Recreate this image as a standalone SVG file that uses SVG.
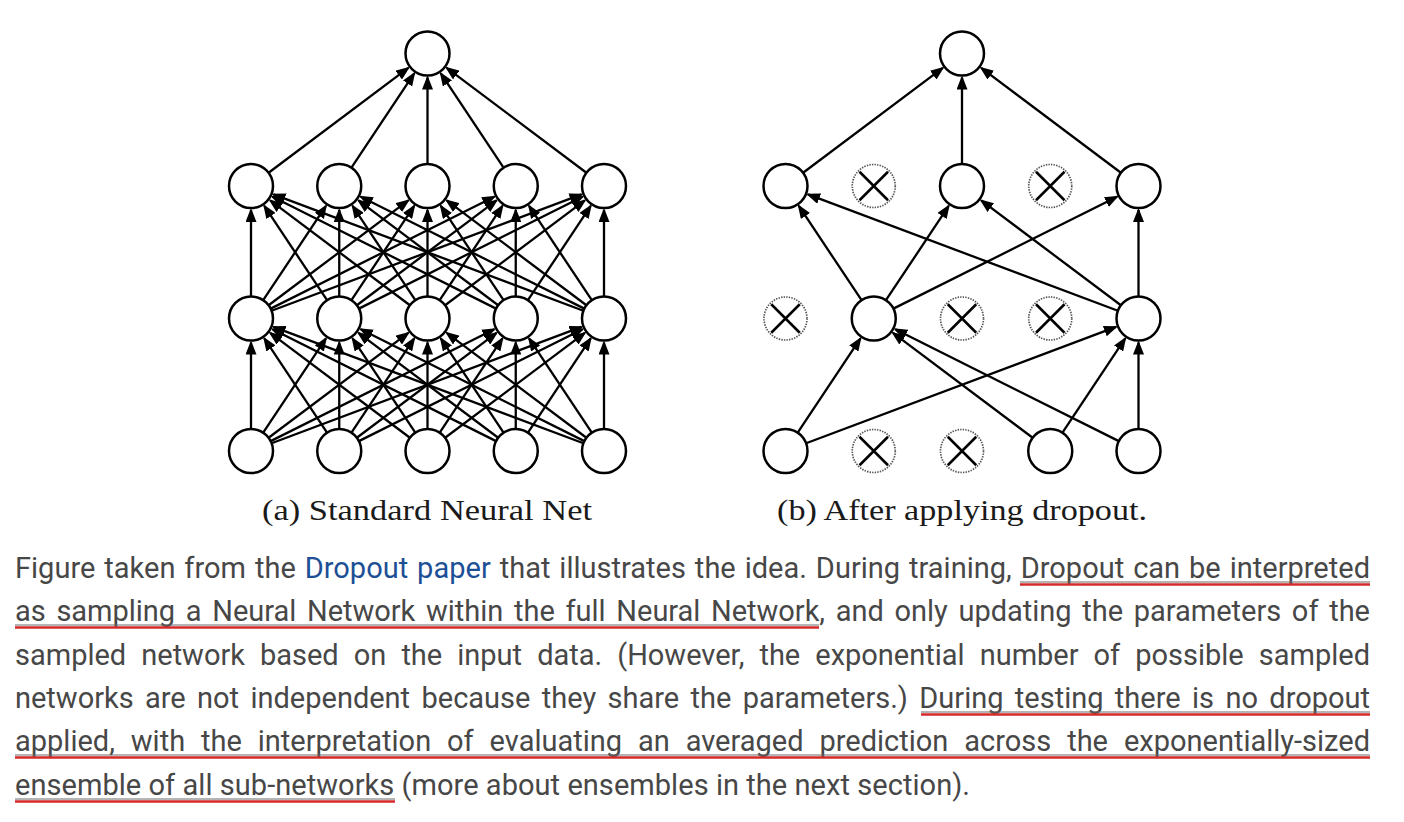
<svg xmlns="http://www.w3.org/2000/svg" width="1404" height="822" viewBox="0 0 1404 822">
<style>
.node{fill:#fff;stroke:#000;stroke-width:2.5}
.drop{fill:#fff;stroke:#555;stroke-width:1.7;stroke-dasharray:1.4 1.2}
.x{stroke:#000;stroke-width:2.5;stroke-linecap:butt}
.edge line{stroke:#000;stroke-width:2.3;marker-end:url(#ah)}
.cap{font-family:"Liberation Serif","DejaVu Serif",serif;font-size:29px;fill:#1a1a1a}
.body{font-family:Roboto,"Liberation Sans",sans-serif;font-size:29px;fill:#474747}
.link{fill:#1d4f96}
.ul{stroke:#d42a2a;stroke-width:2.5}
.ug{stroke:#6a6a6a;stroke-width:1}
</style>
<defs>
<marker id="ah" markerUnits="userSpaceOnUse" markerWidth="15" markerHeight="11" viewBox="0 0 15 11" refX="12" refY="5.5" orient="auto">
<path d="M0,0 L14,5.5 L0,11 z" fill="#000"/>
</marker>
</defs>
<rect width="1404" height="822" fill="#fff"/>

<g id="connectors-a" class="edge">
<line x1="251" y1="429" x2="251" y2="342.5"/>
<line x1="263.19" y1="432.69" x2="325.95" y2="338.48"/>
<line x1="268.59" y1="437.79" x2="408.31" y2="332.91"/>
<line x1="270.67" y1="441.15" x2="494.29" y2="329.24"/>
<line x1="271.6" y1="443.27" x2="581.53" y2="326.93"/>
<line x1="327.06" y1="432.69" x2="264.3" y2="338.48"/>
<line x1="339.25" y1="429" x2="339.25" y2="342.5"/>
<line x1="351.44" y1="432.69" x2="414.2" y2="338.48"/>
<line x1="356.84" y1="437.79" x2="496.56" y2="332.91"/>
<line x1="358.92" y1="441.15" x2="582.54" y2="329.24"/>
<line x1="409.91" y1="437.79" x2="270.19" y2="332.91"/>
<line x1="415.31" y1="432.69" x2="352.55" y2="338.48"/>
<line x1="427.5" y1="429" x2="427.5" y2="342.5"/>
<line x1="439.69" y1="432.69" x2="502.45" y2="338.48"/>
<line x1="445.09" y1="437.79" x2="584.81" y2="332.91"/>
<line x1="496.08" y1="441.15" x2="272.46" y2="329.24"/>
<line x1="498.16" y1="437.79" x2="358.44" y2="332.91"/>
<line x1="503.56" y1="432.69" x2="440.8" y2="338.48"/>
<line x1="515.75" y1="429" x2="515.75" y2="342.5"/>
<line x1="527.94" y1="432.69" x2="590.7" y2="338.48"/>
<line x1="583.4" y1="443.27" x2="273.47" y2="326.93"/>
<line x1="584.33" y1="441.15" x2="360.71" y2="329.24"/>
<line x1="586.41" y1="437.79" x2="446.69" y2="332.91"/>
<line x1="591.81" y1="432.69" x2="529.05" y2="338.48"/>
<line x1="604" y1="429" x2="604" y2="342.5"/>

<line x1="251" y1="296.5" x2="251" y2="210"/>
<line x1="263.19" y1="300.19" x2="325.95" y2="205.98"/>
<line x1="268.59" y1="305.29" x2="408.31" y2="200.41"/>
<line x1="270.67" y1="308.65" x2="494.29" y2="196.74"/>
<line x1="271.6" y1="310.77" x2="581.53" y2="194.43"/>
<line x1="327.06" y1="300.19" x2="264.3" y2="205.98"/>
<line x1="339.25" y1="296.5" x2="339.25" y2="210"/>
<line x1="351.44" y1="300.19" x2="414.2" y2="205.98"/>
<line x1="356.84" y1="305.29" x2="496.56" y2="200.41"/>
<line x1="358.92" y1="308.65" x2="582.54" y2="196.74"/>
<line x1="409.91" y1="305.29" x2="270.19" y2="200.41"/>
<line x1="415.31" y1="300.19" x2="352.55" y2="205.98"/>
<line x1="427.5" y1="296.5" x2="427.5" y2="210"/>
<line x1="439.69" y1="300.19" x2="502.45" y2="205.98"/>
<line x1="445.09" y1="305.29" x2="584.81" y2="200.41"/>
<line x1="496.08" y1="308.65" x2="272.46" y2="196.74"/>
<line x1="498.16" y1="305.29" x2="358.44" y2="200.41"/>
<line x1="503.56" y1="300.19" x2="440.8" y2="205.98"/>
<line x1="515.75" y1="296.5" x2="515.75" y2="210"/>
<line x1="527.94" y1="300.19" x2="590.7" y2="205.98"/>
<line x1="583.4" y1="310.77" x2="273.47" y2="194.43"/>
<line x1="584.33" y1="308.65" x2="360.71" y2="196.74"/>
<line x1="586.41" y1="305.29" x2="446.69" y2="200.41"/>
<line x1="591.81" y1="300.19" x2="529.05" y2="205.98"/>
<line x1="604" y1="296.5" x2="604" y2="210"/>

<line x1="268.59" y1="172.79" x2="408.31" y2="67.91"/>
<line x1="351.44" y1="167.69" x2="414.2" y2="73.48"/>
<line x1="427.5" y1="164" x2="427.5" y2="77.5"/>
<line x1="503.56" y1="167.69" x2="440.8" y2="73.48"/>
<line x1="586.41" y1="172.79" x2="446.69" y2="67.91"/>
</g>

<g id="connectors-b" class="edge">
<line x1="803.09" y1="172.79" x2="942.81" y2="67.91"/>
<line x1="962" y1="164" x2="962" y2="77.5"/>
<line x1="1120.91" y1="172.79" x2="981.19" y2="67.91"/>
<line x1="861.56" y1="300.19" x2="798.8" y2="205.98"/>
<line x1="885.94" y1="300.19" x2="948.7" y2="205.98"/>
<line x1="893.42" y1="308.65" x2="1117.04" y2="196.74"/>
<line x1="1117.9" y1="310.77" x2="807.97" y2="194.43"/>
<line x1="1120.91" y1="305.29" x2="981.19" y2="200.41"/>
<line x1="1138.5" y1="296.5" x2="1138.5" y2="210"/>
<line x1="797.69" y1="432.69" x2="860.45" y2="338.48"/>
<line x1="806.1" y1="443.27" x2="1116.03" y2="326.93"/>
<line x1="1032.66" y1="437.79" x2="892.94" y2="332.91"/>
<line x1="1062.44" y1="432.69" x2="1125.2" y2="338.48"/>
<line x1="1118.83" y1="441.15" x2="895.21" y2="329.24"/>
<line x1="1138.5" y1="429" x2="1138.5" y2="342.5"/>
</g>

<g id="net-a">
<g id="a-out"><circle class="node" cx="427.5" cy="53.5" r="22"/></g>
<g id="a-h2-1"><circle class="node" cx="251" cy="186" r="22"/></g>
<g id="a-h2-2"><circle class="node" cx="339.25" cy="186" r="22"/></g>
<g id="a-h2-3"><circle class="node" cx="427.5" cy="186" r="22"/></g>
<g id="a-h2-4"><circle class="node" cx="515.75" cy="186" r="22"/></g>
<g id="a-h2-5"><circle class="node" cx="604" cy="186" r="22"/></g>
<g id="a-h1-1"><circle class="node" cx="251" cy="318.5" r="22"/></g>
<g id="a-h1-2"><circle class="node" cx="339.25" cy="318.5" r="22"/></g>
<g id="a-h1-3"><circle class="node" cx="427.5" cy="318.5" r="22"/></g>
<g id="a-h1-4"><circle class="node" cx="515.75" cy="318.5" r="22"/></g>
<g id="a-h1-5"><circle class="node" cx="604" cy="318.5" r="22"/></g>
<g id="a-in-1"><circle class="node" cx="251" cy="451" r="22"/></g>
<g id="a-in-2"><circle class="node" cx="339.25" cy="451" r="22"/></g>
<g id="a-in-3"><circle class="node" cx="427.5" cy="451" r="22"/></g>
<g id="a-in-4"><circle class="node" cx="515.75" cy="451" r="22"/></g>
<g id="a-in-5"><circle class="node" cx="604" cy="451" r="22"/></g>
</g>

<g id="net-b">
<g id="b-out"><circle class="node" cx="962" cy="53.5" r="22"/></g>
<g id="b-h2-1"><circle class="node" cx="785.5" cy="186" r="22"/></g>
<g id="b-h2-2"><circle class="drop" cx="873.75" cy="186" r="21.5"/><path class="x" d="M859.5,171.75 L888,200.25 M888,171.75 L859.5,200.25"/></g>
<g id="b-h2-3"><circle class="node" cx="962" cy="186" r="22"/></g>
<g id="b-h2-4"><circle class="drop" cx="1050.25" cy="186" r="21.5"/><path class="x" d="M1036,171.75 L1064.5,200.25 M1064.5,171.75 L1036,200.25"/></g>
<g id="b-h2-5"><circle class="node" cx="1138.5" cy="186" r="22"/></g>
<g id="b-h1-1"><circle class="drop" cx="785.5" cy="318.5" r="21.5"/><path class="x" d="M771.25,304.25 L799.75,332.75 M799.75,304.25 L771.25,332.75"/></g>
<g id="b-h1-2"><circle class="node" cx="873.75" cy="318.5" r="22"/></g>
<g id="b-h1-3"><circle class="drop" cx="962" cy="318.5" r="21.5"/><path class="x" d="M947.75,304.25 L976.25,332.75 M976.25,304.25 L947.75,332.75"/></g>
<g id="b-h1-4"><circle class="drop" cx="1050.25" cy="318.5" r="21.5"/><path class="x" d="M1036,304.25 L1064.5,332.75 M1064.5,304.25 L1036,332.75"/></g>
<g id="b-h1-5"><circle class="node" cx="1138.5" cy="318.5" r="22"/></g>
<g id="b-in-1"><circle class="node" cx="785.5" cy="451" r="22"/></g>
<g id="b-in-2"><circle class="drop" cx="873.75" cy="451" r="21.5"/><path class="x" d="M859.5,436.75 L888,465.25 M888,436.75 L859.5,465.25"/></g>
<g id="b-in-3"><circle class="drop" cx="962" cy="451" r="21.5"/><path class="x" d="M947.75,436.75 L976.25,465.25 M976.25,436.75 L947.75,465.25"/></g>
<g id="b-in-4"><circle class="node" cx="1050.25" cy="451" r="22"/></g>
<g id="b-in-5"><circle class="node" cx="1138.5" cy="451" r="22"/></g>
</g>

<g id="captions">
<text class="cap" x="262" y="520" textLength="330" lengthAdjust="spacingAndGlyphs">(a) Standard Neural Net</text>
<text class="cap" x="777" y="520" textLength="370" lengthAdjust="spacingAndGlyphs">(b) After applying dropout.</text>
</g>

<g id="paragraph">
<text class="body" x="15" y="578" textLength="1355" lengthAdjust="spacing" style="word-spacing:1.7px">Figure taken from the <tspan class="link">Dropout paper</tspan> that illustrates the idea. During training, Dropout can be interpreted</text>
<text class="body" x="15" y="621" textLength="1355" lengthAdjust="spacing" style="word-spacing:3.6px">as sampling a Neural Network within the full Neural Network, and only updating the parameters of the</text>
<text class="body" x="15" y="665" textLength="1355" lengthAdjust="spacing" style="word-spacing:7.9px">sampled network based on the input data. (However, the exponential number of possible sampled</text>
<text class="body" x="15" y="708" textLength="1355" lengthAdjust="spacing" style="word-spacing:4.2px">networks are not independent because they share the parameters.) During testing there is no dropout</text>
<text class="body" x="15" y="751" textLength="1355" lengthAdjust="spacing" style="word-spacing:8.7px">applied, with the interpretation of evaluating an averaged prediction across the exponentially-sized</text>
<text class="body" x="15" y="795" textLength="955" lengthAdjust="spacing">ensemble of all sub-networks (more about ensembles in the next section).</text>
</g>

<g id="underlines">
<line class="ug" x1="1020" y1="582" x2="1370" y2="582"/>
<line class="ul" x1="1020" y1="584.5" x2="1370" y2="584.5"/>
<line class="ug" x1="15" y1="625" x2="819" y2="625"/>
<line class="ul" x1="15" y1="627.5" x2="819" y2="627.5"/>
<line class="ug" x1="921" y1="712" x2="1370" y2="712"/>
<line class="ul" x1="921" y1="714.5" x2="1370" y2="714.5"/>
<line class="ug" x1="15" y1="755" x2="1370" y2="755"/>
<line class="ul" x1="15" y1="757.5" x2="1370" y2="757.5"/>
<line class="ug" x1="15" y1="799" x2="395" y2="799"/>
<line class="ul" x1="15" y1="801.5" x2="395" y2="801.5"/>
</g>
</svg>
